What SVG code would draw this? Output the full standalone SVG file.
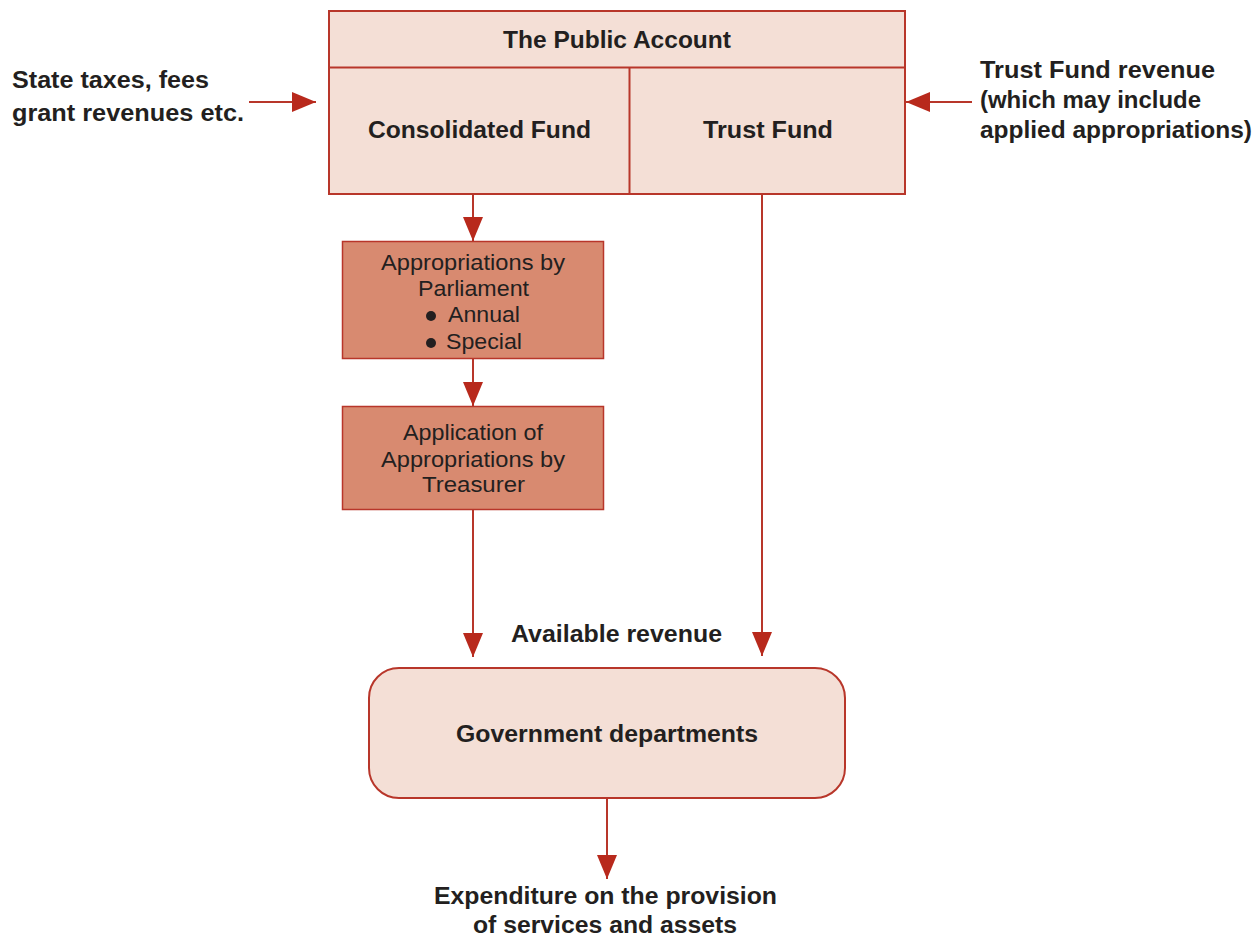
<svg xmlns="http://www.w3.org/2000/svg" width="1255" height="938" viewBox="0 0 1255 938">
  <style>
    .t { font-family: "Liberation Sans", Arial, sans-serif; fill: #231f20; text-anchor: middle; }
    .b { font-weight: bold; font-size: 23px; }
    .r { font-size: 22px; }
    .lt { text-anchor: start; }
    .light { fill: #f4dfd6; stroke: #b8362a; stroke-width: 2; }
    .dark { fill: #d88a70; stroke: #b8362a; stroke-width: 1.5; }
    .conn { stroke: #b8362a; stroke-width: 2; fill: none; marker-end: url(#ah); }
  </style>
  <defs>
    <marker id="ah" markerUnits="userSpaceOnUse" markerWidth="24" markerHeight="20" viewBox="0 0 24 20" refX="24" refY="10" orient="auto">
      <path d="M0,0 L24,10 L0,20 Z" fill="#b8291c"/>
    </marker>
  </defs>
  <rect width="1255" height="938" fill="#ffffff"/>

  <!-- flows between nodes -->
  <g id="connectors">
    <line class="conn" x1="249" y1="102" x2="316" y2="102"/>
    <line class="conn" x1="972" y1="102" x2="906" y2="102"/>
    <line class="conn" x1="473" y1="194" x2="473" y2="241"/>
    <line class="conn" x1="473" y1="358" x2="473" y2="406"/>
    <line class="conn" x1="473" y1="509" x2="473" y2="657"/>
    <line class="conn" x1="762" y1="194" x2="762" y2="656"/>
    <line class="conn" x1="607" y1="798" x2="607" y2="879"/>
  </g>

  <g id="public-account">
    <rect class="light" x="329" y="11" width="576" height="183"/>
    <line x1="329" y1="67.5" x2="905" y2="67.5" stroke="#b8362a" stroke-width="2"/>
    <text class="t b" x="617" y="48" font-size="22" textLength="228" lengthAdjust="spacingAndGlyphs">The Public Account</text>
  </g>

  <g id="consolidated-fund">
    <line x1="629.5" y1="67" x2="629.5" y2="194" stroke="#b8362a" stroke-width="2"/>
    <text class="t b" x="479.5" y="138" textLength="223" lengthAdjust="spacingAndGlyphs">Consolidated Fund</text>
  </g>

  <g id="trust-fund">
    <text class="t b" x="768" y="138" textLength="130" lengthAdjust="spacingAndGlyphs">Trust Fund</text>
  </g>

  <g id="state-revenue">
    <text class="t b lt" x="12" y="88" textLength="197" lengthAdjust="spacingAndGlyphs">State taxes, fees</text>
    <text class="t b lt" x="12" y="121" textLength="232" lengthAdjust="spacingAndGlyphs">grant revenues etc.</text>
  </g>

  <g id="trust-revenue">
    <text class="t b lt" x="980" y="78" textLength="235" lengthAdjust="spacingAndGlyphs">Trust Fund revenue</text>
    <text class="t b lt" x="980" y="108" textLength="221" lengthAdjust="spacingAndGlyphs">(which may include</text>
    <text class="t b lt" x="980" y="138" textLength="272" lengthAdjust="spacingAndGlyphs">applied appropriations)</text>
  </g>

  <g id="appropriations">
    <rect class="dark" x="342.5" y="241.5" width="261" height="117"/>
    <text class="t r" x="473" y="270" textLength="184" lengthAdjust="spacingAndGlyphs">Appropriations by</text>
    <text class="t r" x="473.5" y="296" textLength="111" lengthAdjust="spacingAndGlyphs">Parliament</text>
    <circle cx="431" cy="316" r="5" fill="#231f20"/>
    <text class="t r lt" x="448" y="322" textLength="72" lengthAdjust="spacingAndGlyphs">Annual</text>
    <circle cx="431" cy="343" r="5" fill="#231f20"/>
    <text class="t r lt" x="446" y="349" textLength="76" lengthAdjust="spacingAndGlyphs">Special</text>
  </g>

  <g id="application">
    <rect class="dark" x="342.5" y="406.5" width="261" height="103"/>
    <text class="t r" x="473" y="440" textLength="140" lengthAdjust="spacingAndGlyphs">Application of</text>
    <text class="t r" x="473" y="467" textLength="184" lengthAdjust="spacingAndGlyphs">Appropriations by</text>
    <text class="t r" x="473.5" y="492" textLength="103" lengthAdjust="spacingAndGlyphs">Treasurer</text>
  </g>

  <g id="available-revenue">
    <text class="t b" x="616.5" y="642" textLength="211" lengthAdjust="spacingAndGlyphs">Available revenue</text>
  </g>

  <g id="government-departments">
    <rect class="light" x="369" y="668" width="476" height="130" rx="30" ry="30"/>
    <text class="t b" x="607" y="742" textLength="302" lengthAdjust="spacingAndGlyphs">Government departments</text>
  </g>

  <g id="expenditure">
    <text class="t b" x="605.5" y="904" textLength="343" lengthAdjust="spacingAndGlyphs">Expenditure on the provision</text>
    <text class="t b" x="605" y="933" textLength="264" lengthAdjust="spacingAndGlyphs">of services and assets</text>
  </g>
</svg>
